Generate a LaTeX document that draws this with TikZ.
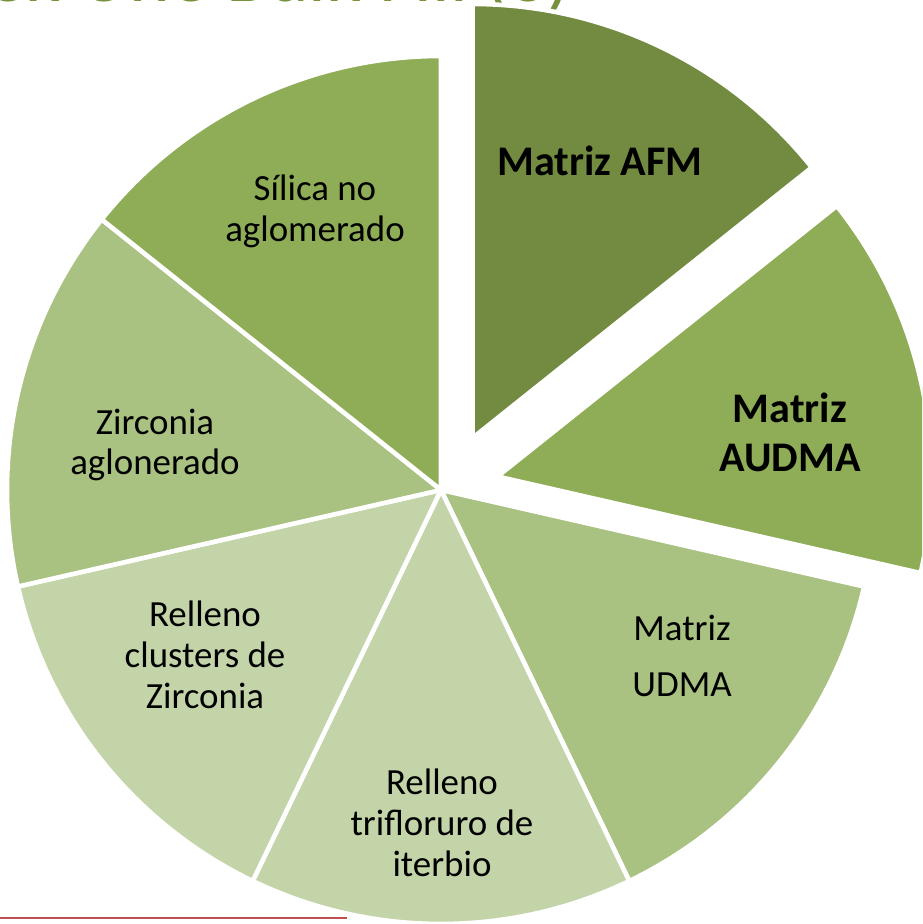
\documentclass[tikz,border=0pt]{standalone}
\usepackage{fontspec}
\setmainfont{Carlito}
\usepackage{tikz}
\usetikzlibrary{calc,positioning}

\definecolor{olivaOsc}{HTML}{728B40}
\definecolor{olivaMed}{HTML}{8FAD57}
\definecolor{olivaCla}{HTML}{A9C181}
\definecolor{olivaPal}{HTML}{C3D4A9}
\definecolor{titulo}{HTML}{76923C}
\definecolor{linRoja}{HTML}{C0504D}

\begin{document}
\begin{tikzpicture}[
	rebanada/.style={draw=white, line width=2.6pt, line join=miter},
	etiq/.style={align=center, font=\fontsize{21}{23.3}\selectfont},
	etiqN/.style={align=center, font=\fontsize{24}{27.8}\selectfont\bfseries}]
	\path[use as bounding box] (-8.82,-8.68) rectangle (9.62,9.8);
	\clip (-8.82,-8.68) rectangle (9.62,9.8);
	
	% titulo (cortado arriba)
	\node[anchor=base west, text=titulo, inner sep=0pt, font=\fontsize{44}{48}\selectfont] (tit) at (-11.0,9.76) {Filtek One Bulk Fill (3)};
	
	% linea roja de abajo
	\coordinate (rojaA) at (-8.82,-8.56);
	\coordinate (rojaB) at (-1.88,-8.56);
	\draw[linRoja, line width=1.1pt] (rojaA) -- (rojaB);
	
	% rebanadas
	\filldraw[rebanada, fill=olivaCla] (0,0) -- (-12.857:8.68) arc[start angle=-12.857, end angle=-64.286, radius=8.68] -- cycle;
	\filldraw[rebanada, fill=olivaPal] (0,0) -- (-64.286:8.68) arc[start angle=-64.286, end angle=-115.714, radius=8.68] -- cycle;
	\filldraw[rebanada, fill=olivaPal] (0,0) -- (-115.714:8.68) arc[start angle=-115.714, end angle=-167.143, radius=8.68] -- cycle;
	\filldraw[rebanada, fill=olivaCla] (0,0) -- (-167.143:8.68) arc[start angle=-167.143, end angle=-218.571, radius=8.68] -- cycle;
	\filldraw[rebanada, fill=olivaMed] (0,0) -- (141.429:8.68) arc[start angle=141.429, end angle=90, radius=8.68] -- cycle;
	
	% rebanadas separadas
	\begin{scope}[shift={(0.63,1.04)}]
		\filldraw[rebanada, fill=olivaOsc] (0,0) -- (90:8.68) arc[start angle=90, end angle=38.571, radius=8.68] -- cycle;
	\end{scope}
	\begin{scope}[shift={(1.13,0.27)}]
		\filldraw[rebanada, fill=olivaMed] (0,0) -- (38.571:8.68) arc[start angle=38.571, end angle=-12.857, radius=8.68] -- cycle;
	\end{scope}
	
	\node[etiqN] (afm) at (3.18,6.58) {Matriz AFM};
	\node[etiqN] (audma) at (6.98,1.16) {Matriz\\AUDMA};
	\node[etiq, font=\fontsize{21}{31.7}\selectfont] (udma) at (4.82,-3.32) {Matriz\\UDMA};
	\node[etiq] (iterbio) at (0.02,-6.66) {Relleno\\trifloruro de\\iterbio};
	\node[etiq] (clusters) at (-4.72,-3.3) {Relleno\\clusters de\\Zirconia};
	\node[etiq] (zirconia) at (-5.72,0.9) {Zirconia\\aglonerado};
	\node[etiq] (silica) at (-2.52,5.58) {Sílica no\\aglomerado};
\end{tikzpicture}
\end{document}
